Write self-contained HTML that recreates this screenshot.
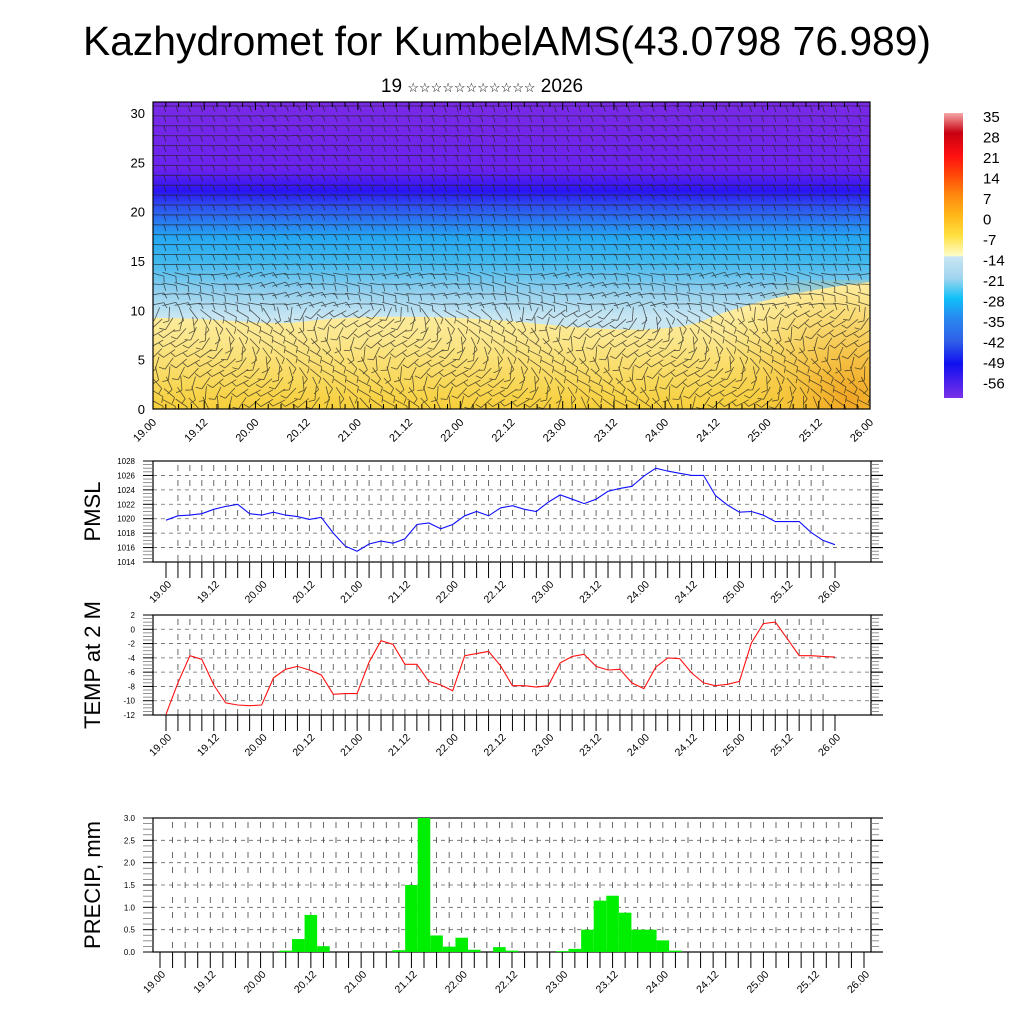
<!DOCTYPE html>
<html><head><meta charset="utf-8">
<style>
html,body{margin:0;padding:0;background:#fff;}
svg{display:block;font-family:"Liberation Sans",sans-serif;}
</style></head>
<body>
<svg id="chart" width="1024" height="1024" viewBox="0 0 1024 1024" xmlns="http://www.w3.org/2000/svg">
<defs>
<linearGradient id="gAir" x1="0" y1="102" x2="0" y2="409" gradientUnits="userSpaceOnUse">
<stop offset="0" stop-color="#7a2ae6"/>
<stop offset="0.22" stop-color="#6a22ee"/>
<stop offset="0.29" stop-color="#2a14f2"/>
<stop offset="0.34" stop-color="#2e50f0"/>
<stop offset="0.44" stop-color="#24a6f2"/>
<stop offset="0.52" stop-color="#40b8ee"/>
<stop offset="0.62" stop-color="#94d0ee"/>
<stop offset="0.70" stop-color="#c8e6f2"/>
<stop offset="1" stop-color="#c8e6f2"/>
</linearGradient>
<linearGradient id="gGround" x1="0" y1="285" x2="0" y2="409" gradientUnits="userSpaceOnUse">
<stop offset="0" stop-color="#fff2b0"/>
<stop offset="0.45" stop-color="#fbe68a"/>
<stop offset="1" stop-color="#f7cf3a"/>
</linearGradient>
<radialGradient id="gHot" cx="850" cy="400" r="140" gradientUnits="userSpaceOnUse">
<stop offset="0" stop-color="#f0a020" stop-opacity="0.9"/>
<stop offset="1" stop-color="#f7cf3a" stop-opacity="0"/>
</radialGradient>
<linearGradient id="gBar" x1="0" y1="113" x2="0" y2="398" gradientUnits="userSpaceOnUse">
<stop offset="0" stop-color="#f4a8a8"/>
<stop offset="0.07" stop-color="#c80010"/>
<stop offset="0.15" stop-color="#ff1010"/>
<stop offset="0.22" stop-color="#ff4a08"/>
<stop offset="0.29" stop-color="#ff8a10"/>
<stop offset="0.36" stop-color="#ffb818"/>
<stop offset="0.43" stop-color="#ffe040"/>
<stop offset="0.50" stop-color="#fffcc8"/>
<stop offset="0.505" stop-color="#c8e6f4"/>
<stop offset="0.58" stop-color="#a0d4ee"/>
<stop offset="0.65" stop-color="#10c0f8"/>
<stop offset="0.72" stop-color="#2888f0"/>
<stop offset="0.80" stop-color="#3060e8"/>
<stop offset="0.88" stop-color="#1010f0"/>
<stop offset="1" stop-color="#7a30e8"/>
</linearGradient>
<clipPath id="cTop"><rect x="153" y="102" width="717" height="307"/></clipPath>
</defs>
<text x="507" y="55" text-anchor="middle" font-size="41" textLength="848" lengthAdjust="spacingAndGlyphs">Kazhydromet for KumbelAMS(43.0798 76.989)</text>
<text x="482" y="92" text-anchor="middle" font-size="19">19 <tspan font-size="13">☆☆☆☆☆☆☆☆☆☆☆</tspan> 2026</text>
<g id="top"></g>
<g id="cbar"></g>
<g id="pmsl"></g>
<g id="temp"></g>
<g id="precip"></g>
</svg>
<script>
const xLabels = ["19.00","19.12","20.00","20.12","21.00","21.12","22.00","22.12","23.00","23.12","24.00","24.12","25.00","25.12","26.00"];
const pmslValues = [1019.8,1020.4,1020.5,1020.7,1021.3,1021.7,1022.0,1020.7,1020.5,1020.9,1020.5,1020.3,1019.9,1020.2,1018.0,1016.2,1015.5,1016.5,1016.9,1016.6,1017.2,1019.2,1019.4,1018.6,1019.2,1020.4,1021.0,1020.4,1021.5,1021.8,1021.3,1021.0,1022.3,1023.3,1022.7,1022.1,1022.7,1023.8,1024.2,1024.5,1025.9,1027.0,1026.6,1026.3,1026.0,1026.0,1023.2,1021.9,1020.9,1021.0,1020.5,1019.6,1019.6,1019.6,1018.1,1017.0,1016.4];
const pmslTicks = [1014,1016,1018,1020,1022,1024,1026,1028];
const tempValues = [-11.9,-7.5,-3.7,-4.2,-7.8,-10.3,-10.6,-10.7,-10.6,-6.8,-5.6,-5.2,-5.7,-6.4,-9.1,-9.0,-9.0,-4.6,-1.6,-2.1,-4.9,-4.9,-7.3,-7.8,-8.6,-3.7,-3.4,-3.1,-5.1,-7.9,-7.9,-8.1,-7.9,-4.7,-3.8,-3.5,-5.2,-5.7,-5.6,-7.5,-8.3,-5.3,-4.0,-4.1,-6.1,-7.5,-7.9,-7.7,-7.3,-1.9,0.8,1.0,-1.3,-3.7,-3.7,-3.8,-3.9];
const tempTicks = [-12,-10,-8,-6,-4,-2,0,2];
const precipValues = [0,0,0,0,0,0,0,0,0,0,0.03,0.29,0.83,0.13,0,0,0,0,0,0.04,1.5,3.0,0.37,0.12,0.32,0.05,0,0.11,0.03,0,0,0,0.02,0.07,0.5,1.15,1.26,0.88,0.5,0.5,0.26,0.03,0,0,0,0,0,0,0,0,0,0,0,0,0,0,0];
const precipTicks = [0.0,0.5,1.0,1.5,2.0,2.5,3.0];
const heightTicks = [0,5,10,15,20,25,30];
const cbarLabels = [35,28,21,14,7,0,-7,-14,-21,-28,-35,-42,-49,-56];

const NS="http://www.w3.org/2000/svg";
function mk(parent,tag,attrs,text){const e=document.createElementNS(NS,tag);for(const k in attrs)e.setAttribute(k,attrs[k]);if(text!==undefined)e.textContent=text;parent.appendChild(e);return e;}

// ---------- top panel ----------
(function(){
  const g=document.getElementById('top');
  const L=153,R=870,T=102,B=409;
  const yH=v=>409-v*9.87;
  const bg=mk(g,'rect',{x:L,y:T,width:R-L,height:B-T,fill:'url(#gAir)'});
  
  
  const gr=mk(g,'path',{d:'M153,318 C220,318 270,326 300,322 C360,314 450,316 520,322 C600,330 660,334 700,322 C740,305 800,290 870,282 L870,409 L153,409 Z',fill:'url(#gGround)'});
  
  
  mk(g,'rect',{x:640,y:280,width:230,height:129,fill:'url(#gHot)','clip-path':'url(#cTop)'});
  const barbs=mk(g,'g',{stroke:'#222','stroke-width':'0.8','stroke-opacity':'0.75','clip-path':'url(#cTop)'});
  
  
  let d='';
  for(let y=106;y<408;y+=9.9){
    for(let x=157;x<870;x+=12.2){
      const h=(409-y)/9.87;
      let a;
      if(h>10) a=Math.PI*(0.02*Math.sin(x/60)+ (h<14?0.08*Math.sin(x/25+h):0));
      else a=Math.PI*(0.5+0.35*Math.sin(x/37+h/2));
      const len=14;
      const dx=Math.cos(a)*len,dy=Math.sin(a)*len;
      d+=`M${(x-dx/2).toFixed(1)},${(y-dy/2).toFixed(1)}L${(x+dx/2).toFixed(1)},${(y+dy/2).toFixed(1)}`;
      const fx=x+dx/2,fy=y+dy/2;
      d+=`M${fx.toFixed(1)},${fy.toFixed(1)}L${(fx-Math.sin(a)*6+Math.cos(a)*2).toFixed(1)},${(fy+Math.cos(a)*6+Math.sin(a)*2).toFixed(1)}`;
    }
  }
  mk(barbs,'path',{d:d,fill:'none'});
  mk(g,'rect',{x:L,y:T,width:R-L,height:B-T,fill:'none',stroke:'#000','stroke-width':1.2});
  heightTicks.forEach(v=>{
    const t=mk(g,'text',{x:145,y:yH(v)+5,'text-anchor':'end','font-size':13},String(v));
    
    
  });
  const step=(R-L)/56;
  for(let i=0;i<=56;i++){
    const x=L+i*step;
    mk(g,'line',{x1:x,y1:B,x2:x,y2:B-(i%4==0?8:5),stroke:'#000','stroke-width':1});
    mk(g,'line',{x1:x,y1:T,x2:x,y2:T+(i%4==0?8:5),stroke:'#000','stroke-width':1});
  }
  xLabels.forEach((s,j)=>{
    const x=L+j*4*step;
    const t=mk(g,'text',{x:x+4,y:B+14,'text-anchor':'end','font-size':11,transform:`rotate(-45 ${x+4} ${B+14})`},s);
    
    
  });
})();

// ---------- colorbar ----------
(function(){
  const g=document.getElementById('cbar');
  mk(g,'rect',{x:944,y:113,width:19,height:285,fill:'url(#gBar)'});
  cbarLabels.forEach((v,i)=>{
    const t=mk(g,'text',{x:983,y:122+i*20.5,'font-size':15},String(v));
    
    
  });
})();

// ---------- generic timeseries panel ----------
function panel(id,top,bottom,ymin,ymax,ticks,fmt,title,x0,x1){
  const g=document.getElementById(id);
  const L=153,R=871;
  const ys=v=>bottom-(v-ymin)/(ymax-ymin)*(bottom-top);
  const xs=i=>x0+i*(x1-x0)/56;
  const grid=mk(g,'g',{stroke:'#666','stroke-width':0.8,'stroke-dasharray':'4,4'});
  
  
  ticks.forEach((v,k)=>{ if(k>0&&k<ticks.length-1) mk(grid,'line',{x1:L,y1:ys(v),x2:R,y2:ys(v)}); });
  const vg=mk(g,'g',{stroke:'#444','stroke-width':0.8,'stroke-dasharray':'6,9'});
  for(let i=1;i<56;i++) mk(vg,'line',{x1:xs(i),y1:top+4,x2:xs(i),y2:bottom});
  mk(g,'rect',{x:L,y:top,width:R-L,height:bottom-top,fill:'none',stroke:'#000','stroke-width':1.2});
  const nm=(ticks.length-1)*4;
  for(let k=0;k<=nm;k++){
    const y=top+k*(bottom-top)/nm;
    const big=k%4==0;
    mk(g,'line',{x1:L-10,y1:y,x2:L,y2:y,stroke:big?'#000':'#777','stroke-width':big?1:0.8});
    mk(g,'line',{x1:R,y1:y,x2:R+(big?12:8),y2:y,stroke:big?'#000':'#777','stroke-width':big?1.2:0.8});
  }
  ticks.forEach(v=>{
    const t=mk(g,'text',{x:L-18,y:ys(v)+3,'text-anchor':'end','font-size':8},fmt(v));
    
    
  });
  for(let i=0;i<=56;i++) mk(g,'line',{x1:xs(i),y1:bottom,x2:xs(i),y2:bottom+16,stroke:'#000','stroke-width':1});
  xLabels.forEach((s,j)=>{
    const x=xs(j*4);
    const t=mk(g,'text',{x:x+6,y:bottom+23,'text-anchor':'end','font-size':10.5,transform:`rotate(-45 ${x+6} ${bottom+23})`},s);
    
    
  });
  const cy=(top+bottom)/2;
  const tt=mk(g,'text',{x:100,y:cy,'text-anchor':'middle','font-size':22,transform:`rotate(-90 100 ${cy})`},title);
  
  
  return {g,xs,ys};
}

(function(){
  const p=panel('pmsl',461,562,1014,1028,pmslTicks,v=>String(v),'PMSL',166,835);
  const line=mk(p.g,'polyline',{points:pmslValues.map((v,i)=>p.xs(i).toFixed(1)+','+p.ys(v).toFixed(1)).join(' '),fill:'none',stroke:'#1010ff','stroke-width':1.1});
  
  
})();
(function(){
  const p=panel('temp',615,715,-12,2,tempTicks,v=>String(v),'TEMP at 2 M',166,835);
  const line=mk(p.g,'polyline',{points:tempValues.map((v,i)=>p.xs(i).toFixed(1)+','+p.ys(v).toFixed(1)).join(' '),fill:'none',stroke:'#ff1010','stroke-width':1.1});
  
  
})();
(function(){
  const p=panel('precip',818,952,0,3,precipTicks,v=>v.toFixed(1),'PRECIP, mm',160,864);
  const w=(864-160)/56;
  precipValues.forEach((v,i)=>{
    if(v<=0) return;
    const r=mk(p.g,'rect',{x:p.xs(i)-w/2,y:p.ys(v),width:w,height:p.ys(0)-p.ys(v),fill:'#00ee00'});
    
    
  });
})();
</script>
</body></html>
